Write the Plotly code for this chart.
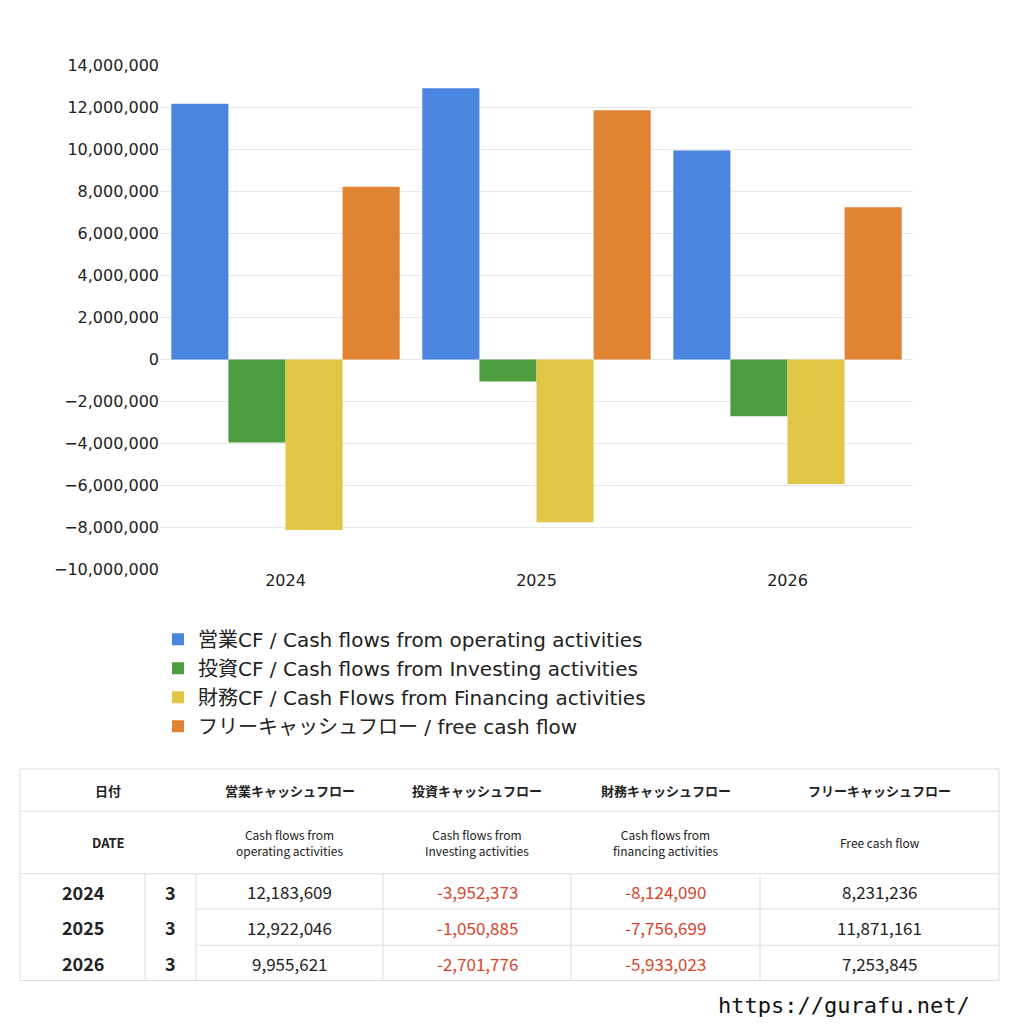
import plotly.graph_objects as go

years = ["2024", "2025", "2026"]
months = ["3", "3", "3"]
operating = [12183609, 12922046, 9955621]
investing = [-3952373, -1050885, -2701776]
financing = [-8124090, -7756699, -5933023]
free_cf = [8231236, 11871161, 7253845]
names = ["営業CF / Cash flows from operating activities",
         "投資CF / Cash flows from Investing activities",
         "財務CF / Cash Flows from Financing activities",
         "フリーキャッシュフロー / free cash flow"]
colors = ["#4a86e0", "#4e9e40", "#e2c648", "#e08434"]
hdr_jp = ["営業キャッシュフロー", "投資キャッシュフロー", "財務キャッシュフロー", "フリーキャッシュフロー"]
hdr_en = ["Cash flows from<br>operating activities", "Cash flows from<br>Investing activities",
          "Cash flows from<br>financing activities", "Free cash flow"]

W = 1024.0
def px(x): return (x - 8) / W
def py(y): return 1 - ((y - 21.8) / 0.974) / W

fig = go.Figure()
for n, v, c in zip(names, [operating, investing, financing, free_cf], colors):
    fig.add_trace(go.Bar(x=years, y=v, name=n, marker=dict(color=c, line=dict(width=0))))

font = "Noto Sans CJK JP, Noto Sans, sans-serif"
wide = "DejaVu Sans, Noto Sans CJK JP, sans-serif"
fig.update_layout(
    width=1024, height=1024, margin=dict(l=0, r=0, t=0, b=0),
    paper_bgcolor="white", plot_bgcolor="white",
    barmode="group", bargap=0.09, bargroupgap=0,
    font=dict(family=font, color="#222"),
    xaxis=dict(domain=[px(160), px(913)], tickfont=dict(size=16, family=wide), showgrid=False, ticks=""),
    yaxis=dict(domain=[py(570), py(70)], range=[-10000000, 14000000], dtick=2000000,
               tickformat=",", tickfont=dict(size=16, family=wide), gridcolor="#e8e8e8", zeroline=False),
    legend=dict(x=px(158), y=py(620), xanchor="left", yanchor="top", font=dict(size=20, family=wide),
                itemsizing="constant", tracegroupgap=0, bgcolor="rgba(0,0,0,0)"),
)

shapes = []
ann = []
line = dict(color="#dddddd", width=1)
def hl(x0, x1, y):
    shapes.append(dict(type="line", xref="paper", yref="paper", x0=px(x0), x1=px(x1), y0=py(y), y1=py(y), line=line))
def vl(x, y0, y1):
    shapes.append(dict(type="line", xref="paper", yref="paper", x0=px(x), x1=px(x), y0=py(y0), y1=py(y1), line=line))
def txt(x, y, t, size=13, color="#222", bold=False):
    ann.append(dict(xref="paper", yref="paper", x=px(x), y=py(y), text=("<b>%s</b>" % t) if bold else t,
                    showarrow=False, font=dict(size=size, color=color, family=font), xanchor="center", yanchor="middle"))

L, R = 20, 999
for y in [768, 810, 872, 978]:
    hl(L, R, y)
for y in [907, 943]:
    hl(196, R, y)
vl(L, 768, 978); vl(R, 768, 978)
for x in [145, 196, 383, 571, 760]:
    vl(x, 872, 978)

cols = [(196, 383), (383, 571), (571, 760), (760, 999)]
txt(108, 789, "日付", bold=True)
txt(108, 841, "DATE", bold=True)
for (a, b), j, e in zip(cols, hdr_jp, hdr_en):
    txt((a + b) / 2, 789, j, bold=True)
    txt((a + b) / 2, 841, e, size=12)
rows_y = [890, 925, 961]
series = [operating, investing, financing, free_cf]
for i, yy in enumerate(rows_y):
    txt(83, yy, years[i], size=18, bold=True)
    txt(170, yy, months[i], size=18, bold=True)
    for (a, b), s in zip(cols, series):
        v = s[i]
        txt((a + b) / 2, yy, f"{v:,}", size=17, color="#d9442c" if v < 0 else "#222")

ann.append(dict(xref="paper", yref="paper", x=px(972), y=py(1003), text="https://gurafu.net/", showarrow=False,
                xanchor="right", yanchor="middle", font=dict(size=22, color="#111", family="DejaVu Sans Mono, monospace")))
fig.update_layout(shapes=shapes, annotations=ann)
fig.write_html("out.html")
